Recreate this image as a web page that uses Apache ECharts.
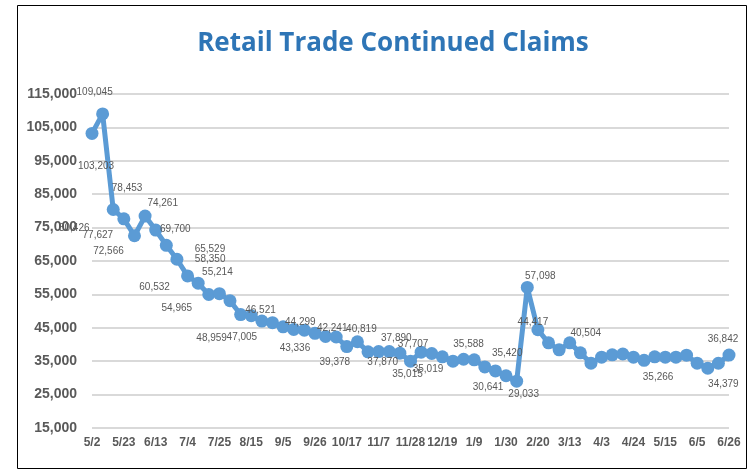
<!DOCTYPE html>
<html>
<head>
<meta charset="utf-8">
<script src="https://cdn.jsdelivr.net/npm/echarts@6/dist/echarts.min.js"></script>
<style>
  html, body { margin: 0; padding: 0; background: #fff; }
  #chart { width: 752px; height: 472px; }
</style>
</head>
<body>
<div id="chart"></div>
<script>
// weekly dates, 5/2 through 6/26 of the following year
var weeks = [
  "5/2", "5/9", "5/16", "5/23", "5/30", "6/6", "6/13", "6/20", "6/27",
  "7/4", "7/11", "7/18", "7/25", "8/1", "8/8", "8/15", "8/22", "8/29",
  "9/5", "9/12", "9/19", "9/26", "10/3", "10/10", "10/17", "10/24", "10/31",
  "11/7", "11/14", "11/21", "11/28", "12/5", "12/12", "12/19", "12/26",
  "1/2", "1/9", "1/16", "1/23", "1/30", "2/6", "2/13", "2/20", "2/27",
  "3/6", "3/13", "3/20", "3/27", "4/3", "4/10", "4/17", "4/24",
  "5/1", "5/8", "5/15", "5/22", "5/29", "6/5", "6/12", "6/19", "6/26"
];

var claims = [
  103203, 109045, 80426, 77627, 72566, 78453, 74261, 69700, 65529,
  60532, 58350, 54965, 55214, 53100, 48959, 48600, 47005, 46521,
  45300, 44500, 44299, 43336, 42400, 42241, 39378, 40819, 37800,
  37870, 37890, 37400, 35015, 37707, 37300, 36300, 35019,
  35588, 35420, 33300, 32100, 30641, 29033, 57098, 44417, 40500,
  38400, 40504, 37500, 34400, 36200, 36900, 37150, 36200,
  35266, 36300, 36200, 36200, 36800, 34400, 32900, 34379, 36842
];

// y axis range
var yMin = 15000;
var yMax = 115000;
var yStep = 10000;

// where each shown data label sits relative to its point (px)
var labelOffsets = {
  0: [4, 33], 1: [-8, -22], 2: [-39, 19], 3: [-26, 16], 4: [-26, 16],
  5: [-18, -28], 6: [7, -27], 7: [9, -16], 8: [33, -10], 9: [-33, 11],
  10: [12, -24], 11: [-32, 14], 12: [-2, -21], 14: [-29, 24], 16: [-20, 16],
  17: [-12, -12], 20: [-4, -8], 21: [-20, 15], 23: [-4, -9], 24: [-12, 16],
  25: [4, -13], 27: [4, 11], 28: [7, -13], 30: [-3, 13], 31: [-8, -8],
  34: [-25, 8], 35: [5, -15], 36: [33, -7], 39: [-18, 11], 40: [7, 13],
  41: [13, -11], 42: [-5, -7], 45: [16, -10], 52: [14, 17], 59: [5, 21],
  60: [-6, -16]
};

var seriesData = claims.map(function(v, i) {
  var off = labelOffsets[i];
  return {
    value: v,
    label: off ? { show: true, position: "inside", offset: off } : { show: false }
  };
});

var chart = echarts.init(document.getElementById("chart"));
chart.setOption({
  animation: false,
  backgroundColor: "#fff",
  title: {
    text: "Retail Trade Continued Claims",
    left: 388,
    top: 26,
    textAlign: "center",
    textStyle: {
      color: "#2E75B6",
      fontFamily: "Open Sans",
      fontWeight: "bold",
      fontSize: 26
    }
  },
  graphic: [
    {
      type: "rect",
      shape: { x: 17.5, y: 5.5, width: 729, height: 463 },
      style: { fill: null, stroke: "#000", lineWidth: 1 },
      silent: true
    }
  ],
  grid: {
    left: 92,
    right: 23,
    top: 94,
    bottom: 44
  },
  xAxis: {
    type: "category",
    data: weeks,
    boundaryGap: false,
    axisLine: { show: false },
    axisTick: { show: false },
    axisLabel: {
      interval: 2,
      margin: 9,
      color: "#595959",
      fontFamily: "Liberation Sans",
      fontWeight: "bold",
      fontSize: 12
    }
  },
  yAxis: {
    type: "value",
    min: yMin,
    max: yMax,
    interval: yStep,
    axisLine: { show: false },
    axisTick: { show: false },
    axisLabel: {
      margin: 15,
      color: "#595959",
      fontFamily: "Liberation Sans",
      fontWeight: "bold",
      fontSize: 14,
      formatter: function(v) {
        return v.toLocaleString("en-US");
      }
    },
    splitLine: { lineStyle: { color: "#D9D9D9", width: 2 } }
  },
  series: [
    {
      name: "Retail Trade Continued Claims",
      type: "line",
      data: seriesData,
      symbol: "circle",
      symbolSize: 13,
      showAllSymbol: true,
      lineStyle: { color: "#5B9BD5", width: 5 },
      itemStyle: { color: "#5B9BD5" },
      label: {
        color: "#595959",
        fontFamily: "Liberation Sans",
        fontSize: 10,
        formatter: function(p) {
          return p.value.toLocaleString("en-US");
        }
      }
    }
  ]
});
</script>
</body>
</html>
